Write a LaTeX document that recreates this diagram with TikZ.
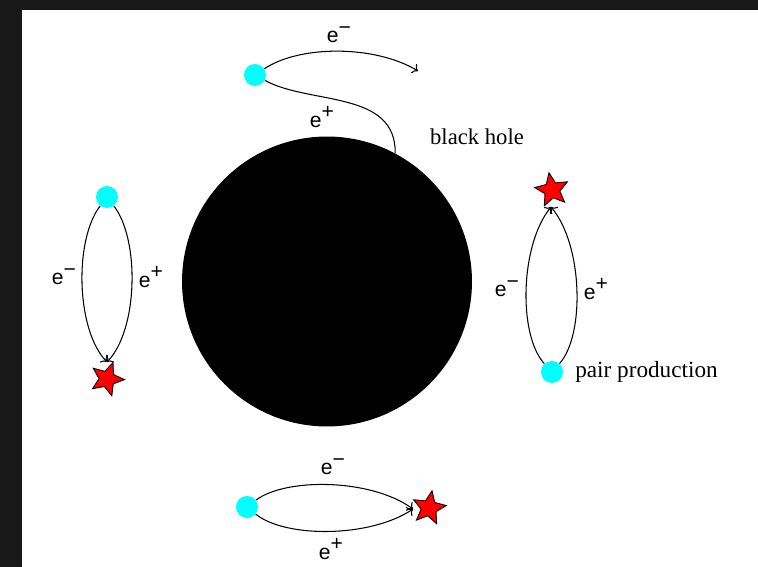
\documentclass[tikz,border=0pt]{standalone}
\usepackage{fontspec}
\setmainfont{Liberation Serif}
\setsansfont{Liberation Sans}
\usetikzlibrary{arrows.meta,shapes.geometric}
\definecolor{PairCyan}{RGB}{0,255,255}
\definecolor{FlashRed}{RGB}{255,0,0}
\definecolor{FrameGray}{RGB}{24,24,24}
\newcommand{\eminus}{e\raisebox{0.75ex}{−}}
\newcommand{\eplus}{e\raisebox{0.75ex}{+}}

\begin{document}
\begin{tikzpicture}[x=0.02cm,y=-0.02cm,>=To,
  pairdot/.style={circle,fill=PairCyan,inner sep=0pt,minimum size=0.44cm},
  flash/.style={star,star points=5,star point ratio=2.2,fill=FlashRed,draw=black,line width=0.5pt,inner sep=0pt,minimum size=0.7cm},
  elabel/.style={font=\sffamily\fontsize{12}{14}\selectfont,inner sep=0pt},
  track/.style={line width=0.6pt}]
  \fill[FrameGray] (0,0) rectangle (758,567);
  \fill[white] (22,10) rectangle (758,567);
  \useasboundingbox (0,0) rectangle (758,567);
  \node[circle,fill=black,inner sep=0pt,minimum size=5.8cm] (hole) at (327,281.5) {};
  \node[font=\fontsize{12.9}{15}\selectfont] (holelabel) at (477,137) {black hole};
  % pair split at the horizon
  \node[pairdot] (dotT) at (255,75) {};
  \coordinate (tipT) at (418,71);
  \draw[track,->] (dotT) .. controls (300,45) and (375,45) .. (tipT);
  \draw[track] (dotT) .. controls (310,105) and (396,90) .. (hole.62.5);
  \node[elabel] (emT) at (339,35) {\eminus};
  \node[elabel] (epT) at (322,117) {\eplus};
  % left pair
  \node[pairdot] (dotL) at (107,197) {};
  \coordinate (tipL) at (107,362);
  \node[flash,rotate=-20] (starL) at (107,379) {};
  \draw[track,->] (dotL) .. controls (74,240) and (76,330) .. (tipL);
  \draw[track,->] (dotL) .. controls (140,240) and (138,330) .. (tipL);
  \node[elabel] (emL) at (64,277) {\eminus};
  \node[elabel] (epL) at (151,277) {\eplus};
  % right pair
  \node[pairdot] (dotR) at (552,372) {};
  \coordinate (tipR) at (551,207);
  \node[flash,rotate=10] (starR) at (552,190) {};
  \draw[track,->] (dotR) .. controls (518,335) and (520,245) .. (tipR);
  \draw[track,->] (dotR) .. controls (585,335) and (583,245) .. (tipR);
  \node[elabel] (emR) at (507,289) {\eminus};
  \node[elabel] (epR) at (596,289) {\eplus};
  \node[font=\fontsize{13.2}{15}\selectfont,anchor=west,inner sep=0pt] (pairlabel) at (575,372) {pair production};
  % bottom pair
  \node[pairdot] (dotB) at (247,507) {};
  \coordinate (tipB) at (413,509);
  \node[flash,rotate=-10] (starB) at (429,508) {};
  \draw[track,->] (dotB) .. controls (285,478) and (370,478) .. (tipB);
  \draw[track,->] (dotB) .. controls (285,538) and (370,538) .. (tipB);
  \node[elabel] (emB) at (333,467) {\eminus};
  \node[elabel] (epB) at (331,549) {\eplus};
\end{tikzpicture}
\end{document}
